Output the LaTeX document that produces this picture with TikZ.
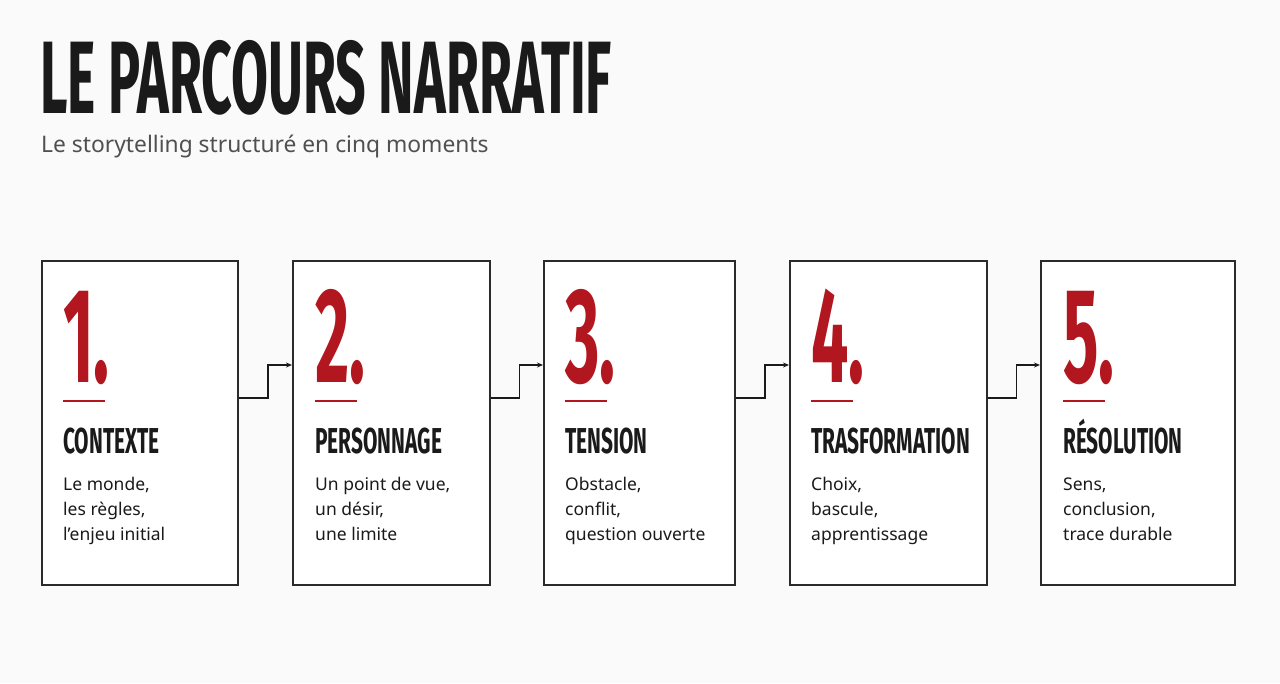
\documentclass[tikz,border=0pt]{standalone}
\usepackage{fontspec}
\usepackage{graphicx}
\setmainfont{Noto Sans}
\newfontfamily\condfont{Fira Sans}
\usetikzlibrary{calc,arrows.meta}
\definecolor{accent}{HTML}{B2161E}
\definecolor{ink}{HTML}{1A1A1A}
\definecolor{edge}{HTML}{2B2B2B}
\definecolor{subgray}{HTML}{505050}
\definecolor{bg}{HTML}{FAFAFA}
\newcommand{\cond}[3]{{\condfont\bfseries\fontsize{#1}{#1}\selectfont\scalebox{#2}[1]{#3}}}
\tikzset{
  stagebox/.style={draw=edge, line width=1.8pt, fill=white, anchor=north west, inner sep=0pt},
  numtext/.style={anchor=base west, inner sep=0pt, text=accent},
  headtext/.style={anchor=base west, inner sep=0pt, text=ink},
  bodytext/.style={anchor=base west, inner sep=0pt, text=ink, font=\fontsize{17.5}{25}\selectfont, align=left},
  link/.style={draw=ink, line width=1.6pt, -{Stealth[length=6pt,width=5pt]}},
  rule/.style={draw=accent, line width=2.6pt}
}
\begin{document}
\begin{tikzpicture}[x=1pt,y=-1pt]
\fill[bg] (0,0) rectangle (1280,683);
\useasboundingbox (0,0) rectangle (1280,683);
\node[anchor=base west, inner sep=0pt, text=ink, text depth=0pt, text height=72pt] (title) at (40,113)
  {\cond{103}{0.52}{LE PARCOURS NARRATIF}};
\node[anchor=base west, inner sep=0pt, text=subgray, font=\fontsize{22.8}{26}\selectfont] (sub) at (41,152)
  {Le storytelling structuré en cinq moments};
% boxes
\node[stagebox, minimum width=196pt, minimum height=324pt] (b1) at (41,260) {};
\node[stagebox, minimum width=197pt, minimum height=324pt] (b2) at (292,260) {};
\node[stagebox, minimum width=191pt, minimum height=324pt] (b3) at (543,260) {};
\node[stagebox, minimum width=197pt, minimum height=324pt] (b4) at (789,260) {};
\node[stagebox, minimum width=194pt, minimum height=324pt] (b5) at (1040,260) {};
% contents
\foreach \bx/\n/\hd/\la/\lb/\lc [count=\i] in {
  63/1/CONTEXTE/{Le monde,}/{les règles,}/{l’enjeu initial},
  315/2/PERSONNAGE/{Un point de vue,}/{un désir,}/{une limite},
  565/3/TENSION/{Obstacle,}/{conflit,}/{question ouverte},
  811/4/TRASFORMATION/{Choix,}/{bascule,}/{apprentissage},
  1063/5/RÉSOLUTION/{Sens,}/{conclusion,}/{trace durable}}{
  \node[numtext] (n\i) at (\bx,382) {\cond{135}{0.49}{\n.}};
  \draw[rule] (\bx,401) -- (\bx+42,401);
  \node[headtext] (h\i) at (\bx,453) {\cond{36}{0.58}{\hd}};
  \node[bodytext] (la\i) at (\bx,490) {\la};
  \node[bodytext] (lb\i) at (\bx,515) {\lb};
  \node[bodytext] (lc\i) at (\bx,540) {\lc};
}
% connectors
\foreach \a/\b in {b1/b2,b2/b3,b3/b4,b4/b5}{
  \path coordinate (s) at ($(\a.north east)+(0,138)$)
    coordinate (e) at ($(\b.north west)+(0,105)$)
    coordinate (m) at ($(s)!0.55!(s-|e)$);
  \draw[link] (s) -- (s-|m) |- (e);
}
\end{tikzpicture}
\end{document}
